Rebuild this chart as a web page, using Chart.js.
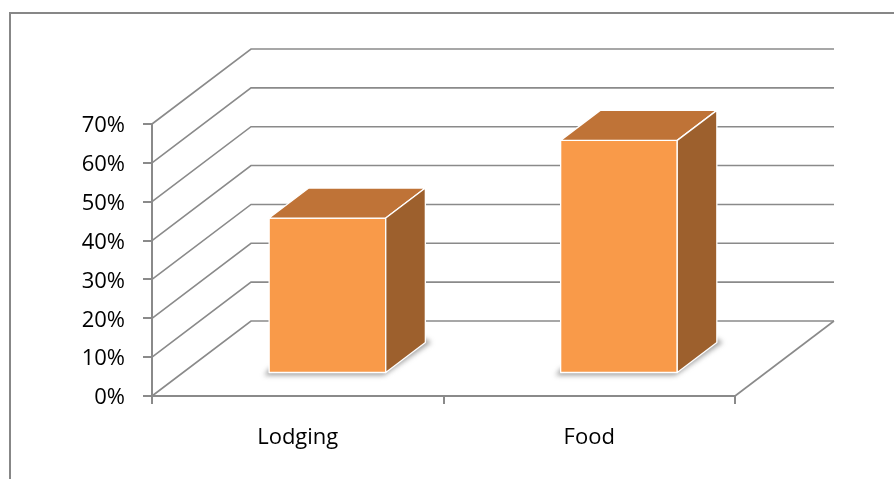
<!DOCTYPE html>
<html>
<head>
<meta charset="utf-8">
<title>Lodging and food share</title>
<script src="https://cdn.jsdelivr.net/npm/chart.js@4.4.0/dist/chart.umd.min.js"></script>
<style>
  html, body { margin: 0; padding: 0; background: #fff; }
  canvas { display: block; }
</style>
</head>
<body>
<canvas id="canvas" width="894" height="479"></canvas>
<script>
const categories = ['Lodging', 'Food'];
const shares = [40, 60];
const yTicks = [0, 10, 20, 30, 40, 50, 60, 70];

// receding direction of the floor / side wall, in pixels
const depth = { x: 99, y: -75 };
const gridColor = '#8a8a8a';
const faceFront = '#f99a49';
const faceTop = '#bf7337';
const faceSide = '#9d602d';

function poly(ctx, pts) {
  ctx.beginPath();
  ctx.moveTo(pts[0][0], pts[0][1]);
  for (let i = 1; i < pts.length; i++) ctx.lineTo(pts[i][0], pts[i][1]);
  ctx.closePath();
}

const box3d = {
  id: 'box3d',
  beforeDraw(chart) {
    const ctx = chart.ctx;
    ctx.save();
    ctx.strokeStyle = '#878787';
    ctx.lineWidth = 2;
    ctx.strokeRect(10, 13, 1000, 1000);
    ctx.restore();
  },
  beforeDatasetsDraw(chart) {
    const { ctx, chartArea: a, scales: { y } } = chart;
    ctx.save();
    ctx.strokeStyle = gridColor;
    ctx.lineWidth = 1.6;
    // side wall diagonals + back wall gridlines
    y.ticks.forEach((t) => {
      const py = y.getPixelForValue(t.value);
      ctx.beginPath();
      ctx.moveTo(a.left, py);
      ctx.lineTo(a.left + depth.x, py + depth.y);
      ctx.lineTo(a.right + depth.x, py + depth.y);
      ctx.stroke();
    });
    // right edge of the floor
    ctx.beginPath();
    ctx.moveTo(a.right, a.bottom);
    ctx.lineTo(a.right + depth.x, a.bottom + depth.y);
    ctx.stroke();
    ctx.restore();
  },
  afterDatasetsDraw(chart) {
    const ctx = chart.ctx;
    const meta = chart.getDatasetMeta(0);
    // bars stand in the middle of the floor depth
    const fx = depth.x * 0.3, fy = depth.y * 0.3;
    const bx = depth.x * 0.4, by = depth.y * 0.4;
    meta.data.forEach((bar) => {
      const { x, y, base, width } = bar.getProps(['x', 'y', 'base', 'width'], true);
      const l = x - width / 2 + fx, r = x + width / 2 + fx;
      const t = y + fy, b = base + fy;

      ctx.save();
      // soft shadow under the base
      ctx.filter = 'blur(2.5px)';
      ctx.fillStyle = 'rgba(90,90,90,0.55)';
      poly(ctx, [[l - 5, b + 3], [r - 2, b + 3], [r + bx + 6, b + by], [r + bx, b + by - 4], [l, b - 4]]);
      ctx.fill();
      ctx.filter = 'none';

      ctx.strokeStyle = '#ffffff';
      ctx.lineWidth = 1.3;
      ctx.lineJoin = 'round';
      // front
      poly(ctx, [[l, t], [r, t], [r, b], [l, b]]);
      ctx.fillStyle = faceFront;
      ctx.fill();
      ctx.stroke();
      // top
      poly(ctx, [[l, t], [r, t], [r + bx, t + by], [l + bx, t + by]]);
      ctx.fillStyle = faceTop;
      ctx.fill();
      ctx.stroke();
      // side
      poly(ctx, [[r, t], [r + bx, t + by], [r + bx, b + by], [r, b]]);
      ctx.fillStyle = faceSide;
      ctx.fill();
      ctx.stroke();
      ctx.restore();
    });
  }
};

new Chart(document.getElementById('canvas'), {
  type: 'bar',
  data: {
    labels: categories,
    datasets: [{
      data: shares,
      backgroundColor: 'rgba(0,0,0,0)',
      borderWidth: 0,
      barPercentage: 0.5,
      categoryPercentage: 0.8,
    }],
  },
  options: {
    responsive: false,
    animation: false,
    events: [],
    layout: { padding: { left: 0, top: 124, right: 159, bottom: 0 } },
    plugins: { legend: { display: false }, tooltip: { enabled: false } },
    scales: {
      x: {
        afterFit: (s) => { s.height = 83; },
        grid: { drawOnChartArea: false, tickLength: 8, color: gridColor, lineWidth: 2 },
        border: { color: gridColor, width: 2 },
        ticks: { color: '#000', padding: 21, font: { family: 'Open Sans', size: 22 } },
      },
      y: {
        min: 0,
        max: 70,
        afterFit: (s) => { s.width = 152; },
        afterBuildTicks: (s) => { s.ticks = yTicks.map((v) => ({ value: v })); },
        grid: { drawOnChartArea: false, tickLength: 9, color: gridColor, lineWidth: 2 },
        border: { color: gridColor, width: 2 },
        ticks: {
          color: '#000',
          padding: 18,
          labelOffset: 2,
          font: { family: 'Open Sans', size: 22 },
          callback: (v) => v + '%',
        },
      },
    },
  },
  plugins: [box3d],
});
</script>
</body>
</html>
